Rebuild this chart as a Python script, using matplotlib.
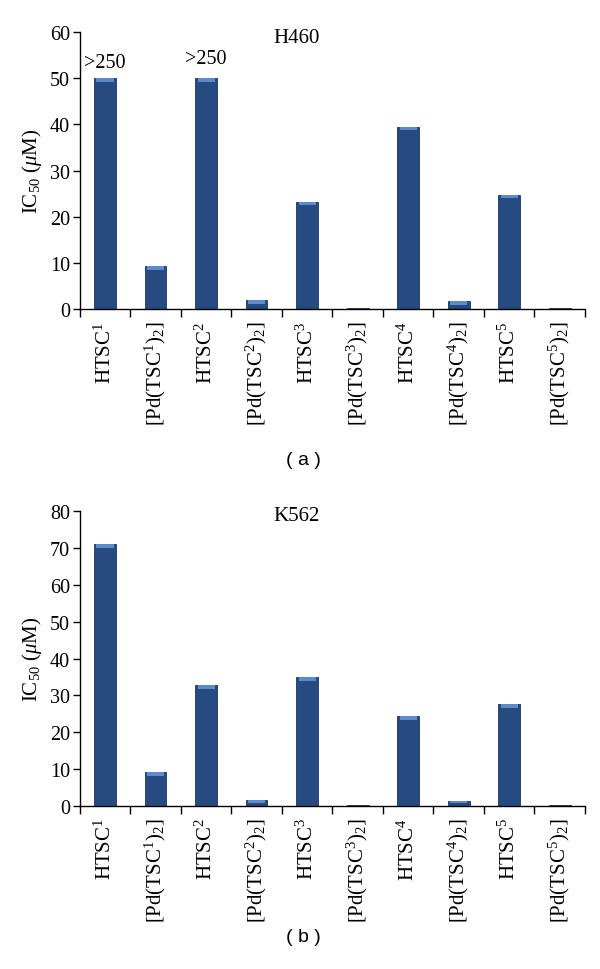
import numpy as np
import matplotlib
matplotlib.use('Agg')
import matplotlib.pyplot as plt

plt.rcParams['font.family'] = ['Liberation Serif', 'DejaVu Serif']
plt.rcParams['mathtext.fontset'] = 'custom'
plt.rcParams['mathtext.rm'] = 'Liberation Serif'
plt.rcParams['mathtext.it'] = 'Liberation Serif:italic'

# data
compounds = ['HTSC$^1$', '[Pd(TSC$^1$)$_2$]', 'HTSC$^2$', '[Pd(TSC$^2$)$_2$]',
             'HTSC$^3$', '[Pd(TSC$^3$)$_2$]', 'HTSC$^4$', '[Pd(TSC$^4$)$_2$]',
             'HTSC$^5$', '[Pd(TSC$^5$)$_2$]']
h460 = [50, 9.3, 50, 2.0, 23.3, 0.2, 39.5, 1.8, 24.8, 0.4]
k562 = [71, 9.2, 32.8, 1.6, 34.9, 0.2, 24.5, 1.5, 27.6, 0.3]
h460_notes = {0: '>250', 2: '>250'}

bar_color = '#264B80'
cap_color = '#5C8ACB'

fig = plt.figure(figsize=(6, 9.7), dpi=100)
ax1 = fig.add_axes([0.133, 0.680, 0.842, 0.286])
ax2 = fig.add_axes([0.133, 0.168, 0.842, 0.304])


def draw(ax, vals, ymax, step, title, ty):
    x = np.arange(len(vals))
    ax.bar(x, vals, width=0.43, color=bar_color, edgecolor='#1b365e', linewidth=0.6)
    cap = ymax * 0.013
    for xi, v in zip(x, vals):
        if v > 1:
            c = min(cap, v * 0.5)
            ax.bar(xi, c, bottom=v - c, width=0.34, color=cap_color, linewidth=0)
    ax.set_xlim(-0.5, len(vals) - 0.5)
    ax.set_ylim(0, ymax)
    ax.set_yticks(np.arange(0, ymax + 1, step))
    ax.set_xticks(x)
    ax.set_xticklabels(compounds, rotation=90, fontsize=15)
    ax.set_xticks(np.arange(-0.5, len(vals)), minor=True)
    ax.tick_params(axis='x', which='major', length=0, pad=8)
    ax.tick_params(axis='x', which='minor', length=6, direction='out', width=1)
    ax.tick_params(axis='y', labelsize=14.5, length=5, width=1, direction='out', pad=2)
    for s in ['top', 'right']:
        ax.spines[s].set_visible(False)
    for s in ['left', 'bottom']:
        ax.spines[s].set_linewidth(1)
    ax.set_ylabel(r'IC$_{50}$ ($\mu$M)', fontsize=15, labelpad=4)
    ax.text(0.43, ty, title, transform=ax.transAxes, ha='center', va='center', fontsize=15)


draw(ax1, h460, 60, 10, 'H460', 0.98)
draw(ax2, k562, 80, 10, 'K562', 0.985)

for i, s in h460_notes.items():
    ax1.text(i, h460[i] + 3.5 + (0.8 if i == 2 else 0), s, ha='center', va='center', fontsize=14.5)

fig.text(0.505, 0.525, '( a )', ha='center', va='center', fontsize=14, family=['Liberation Sans'])
fig.text(0.505, 0.034, '( b )', ha='center', va='center', fontsize=14, family=['Liberation Sans'])

fig.savefig('out.png', dpi=100)
